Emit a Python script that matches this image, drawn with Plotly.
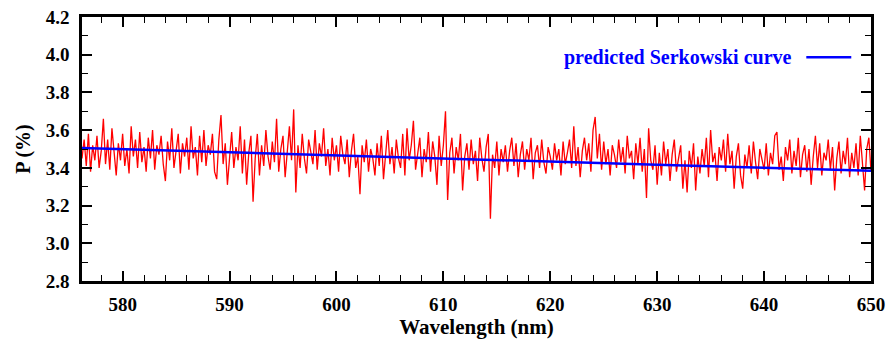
import numpy as np
import plotly.graph_objects as go

# Measured polarization spectrum (0.2 nm sampling from 576.2 nm)
wl_start = 576.2
wl_step = 0.2
p_measured = [
    3.45, 3.55, 3.41, 3.58, 3.38, 3.52, 3.44, 3.57, 3.40, 3.49,
    3.66, 3.42, 3.55, 3.39, 3.61, 3.47, 3.36, 3.53, 3.44, 3.58,
    3.41, 3.50, 3.37, 3.62, 3.46, 3.55, 3.40, 3.59, 3.43, 3.51,
    3.38, 3.56, 3.45, 3.60, 3.39, 3.52, 3.47, 3.57, 3.42, 3.33,
    3.54, 3.44, 3.61, 3.40, 3.50, 3.58, 3.37, 3.53, 3.46, 3.56,
    3.39, 3.62, 3.45, 3.51, 3.36, 3.57, 3.43, 3.60, 3.41, 3.52,
    3.47, 3.58, 3.38, 3.34, 3.55, 3.68, 3.42, 3.53, 3.31, 3.46,
    3.59, 3.40, 3.51, 3.44, 3.62, 3.37, 3.55, 3.31, 3.48, 3.57,
    3.22, 3.45, 3.58, 3.36, 3.52, 3.41, 3.60, 3.46, 3.39, 3.54,
    3.43, 3.66, 3.38, 3.50, 3.57, 3.35, 3.48, 3.62, 3.44, 3.71,
    3.27, 3.52, 3.40, 3.58, 3.45, 3.37, 3.55, 3.48, 3.42, 3.60,
    3.39, 3.53, 3.46, 3.61, 3.41, 3.50, 3.36, 3.56, 3.44, 3.52,
    3.38, 3.57, 3.47, 3.42, 3.55, 3.35, 3.49, 3.58, 3.40, 3.46,
    3.26, 3.52, 3.43, 3.55, 3.38, 3.50, 3.45, 3.36, 3.53, 3.41,
    3.57, 3.34, 3.48, 3.60, 3.42, 3.51, 3.37, 3.55, 3.45, 3.40,
    3.58, 3.36, 3.61, 3.44, 3.52, 3.65, 3.39, 3.49, 3.56, 3.35,
    3.50, 3.43, 3.59, 3.38, 3.54, 3.46, 3.31, 3.57, 3.41, 3.52,
    3.70, 3.23, 3.48, 3.56, 3.37, 3.51, 3.44, 3.58, 3.28, 3.46,
    3.53, 3.39, 3.55, 3.42, 3.49, 3.33, 3.56, 3.45, 3.38, 3.51,
    3.58, 3.13, 3.47, 3.40, 3.54, 3.36, 3.50, 3.43, 3.52, 3.38,
    3.49, 3.56, 3.41, 3.53, 3.35, 3.47, 3.54, 3.39, 3.50, 3.44,
    3.56, 3.34, 3.48, 3.52, 3.40, 3.55, 3.43, 3.37, 3.51, 3.46,
    3.39, 3.53, 3.44, 3.50, 3.36, 3.54, 3.42, 3.48, 3.55, 3.40,
    3.62, 3.41, 3.51, 3.35, 3.49, 3.56, 3.44, 3.53, 3.38, 3.60,
    3.67, 3.45, 3.58, 3.39, 3.54, 3.42, 3.50, 3.36, 3.52, 3.47,
    3.40, 3.55, 3.43, 3.51, 3.37, 3.57, 3.45, 3.49, 3.34, 3.53,
    3.42, 3.56, 3.38, 3.50, 3.24, 3.61, 3.44, 3.39, 3.52, 3.31,
    3.48, 3.36, 3.54, 3.42, 3.50, 3.33, 3.47, 3.55, 3.38, 3.45,
    3.52, 3.29, 3.44, 3.27, 3.49, 3.40, 3.53, 3.28, 3.46, 3.37,
    3.50, 3.41, 3.56, 3.35, 3.60, 3.43, 3.48, 3.33, 3.51, 3.44,
    3.55, 3.38, 3.58, 3.42, 3.49, 3.29, 3.46, 3.53, 3.36, 3.29,
    3.47, 3.40, 3.52, 3.37, 3.54, 3.43, 3.34, 3.50, 3.45, 3.39,
    3.53, 3.36, 3.48, 3.42, 3.57, 3.59, 3.39, 3.46, 3.33, 3.51,
    3.44, 3.55, 3.37, 3.49, 3.41, 3.56, 3.35, 3.47, 3.52, 3.38,
    3.50, 3.31, 3.46, 3.57, 3.40, 3.53, 3.36, 3.48, 3.44, 3.55,
    3.39, 3.51, 3.28, 3.45, 3.54, 3.37, 3.49, 3.42, 3.56, 3.35,
    3.48, 3.40, 3.53, 3.36, 3.57, 3.44, 3.28, 3.50, 3.56, 3.38,
]
wavelength = [round(wl_start + i * wl_step, 1) for i in range(len(p_measured))]

# Predicted Serkowski curve
serk_wl = [576.2, 580, 590, 600, 610, 620, 630, 640, 650]
serk_p = [3.505, 3.499, 3.484, 3.468, 3.451, 3.433, 3.417, 3.400, 3.384]

x_ticks = [580, 590, 600, 610, 620, 630, 640, 650]
y_ticks = [2.8, 3.0, 3.2, 3.4, 3.6, 3.8, 4.0, 4.2]

FONT = "Liberation Serif"

fig = go.Figure()
fig.add_trace(go.Scatter(x=wavelength, y=p_measured, mode="lines",
                         line=dict(color="#ff0000", width=1.3), showlegend=False))
fig.add_trace(go.Scatter(x=serk_wl, y=serk_p, mode="lines",
                         line=dict(color="#0000ff", width=2.5), showlegend=False))

axis_common = dict(
    showline=True, linecolor="black", linewidth=2.5, mirror="ticks",
    ticks="inside", ticklen=10, tickwidth=1.5, tickcolor="black",
    showgrid=False, zeroline=False, automargin=False,
    tickfont=dict(family=FONT, size=19, color="black", weight="bold"),
)

fig.update_xaxes(range=[576.2, 650], tickvals=x_ticks,
                 minor=dict(dtick=2, ticks="inside", ticklen=6, tickcolor="black", tickwidth=1.2),
                 title=dict(text="Wavelength (nm)", font=dict(family=FONT, size=21, color="black", weight="bold"), standoff=4),
                 ticklabelstandoff=4,
                 **axis_common)
fig.update_yaxes(range=[2.8, 4.2], tickvals=y_ticks, tickformat=".1f",
                 minor=dict(dtick=0.1, ticks="inside", ticklen=6, tickcolor="black", tickwidth=1.2),
                 title=dict(text="P (%)", font=dict(family=FONT, size=20, color="black", weight="bold"), standoff=10),
                 ticklabelstandoff=6,
                 **axis_common)

fig.add_annotation(xref="paper", yref="paper", x=0.903, y=0.848, xanchor="right", yanchor="middle",
                   text="predicted Serkowski curve", showarrow=False,
                   font=dict(family=FONT, size=20, color="#0000ff", weight="bold"))
fig.add_shape(type="line", xref="paper", yref="paper", x0=0.918, x1=0.975, y0=0.848, y1=0.848,
              line=dict(color="#0000ff", width=2.5))

fig.update_layout(width=888, height=344, margin=dict(l=82, r=17, t=17, b=63),
                  plot_bgcolor="white", paper_bgcolor="white")

fig.write_html("out.html", config={"displayModeBar": False},
               post_script="document.body.style.margin='0';document.body.style.overflow='hidden';")
